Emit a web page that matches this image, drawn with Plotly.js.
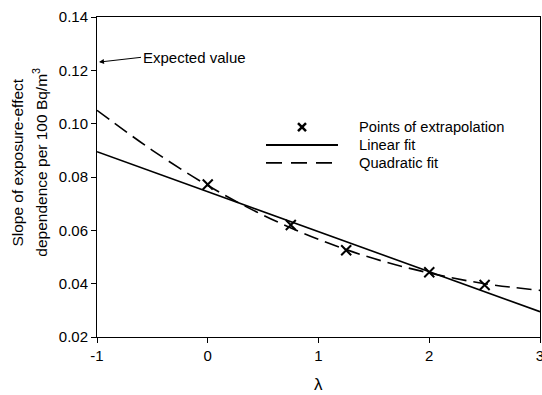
<!DOCTYPE html>
<html>
<head>
<meta charset="utf-8">
<script src="https://cdn.plot.ly/plotly-3.0.1.min.js"></script>
<style>html,body{margin:0;padding:0;background:#fff;}#chart{width:542px;height:395px;}</style>
</head>
<body>
<div id="chart"></div>
<script>
// Points of extrapolation
const pointLambda = [0, 0.75, 1.25, 2, 2.5];
const pointSlope = [0.0772, 0.0620, 0.0525, 0.0443, 0.0395];
// Linear fit (read at ends)
const linLambda = [-1, 3];
const linSlope = [0.0895, 0.0295];
// Quadratic fit
const quadLambda = [-1, -0.5, 0, 0.5, 1, 1.5, 2, 2.5, 3];
const quadSlope = [0.1050, 0.0900, 0.0768, 0.0657, 0.0566, 0.0494, 0.0440, 0.0400, 0.0375];
// Expected value
const expectedLambda = -1;
const expectedSlope = 0.1230;
const xTicks = [-1, 0, 1, 2, 3];
const yTicks = [0.02, 0.04, 0.06, 0.08, 0.10, 0.12, 0.14];
const legendLabels = ['Points of extrapolation', 'Linear fit', 'Quadratic fit'];

const FONT = 'Liberation Sans, Arial, sans-serif';

const traces = [
  {x: pointLambda, y: pointSlope, mode: 'markers', name: legendLabels[0],
   marker: {symbol: 'x-thin', size: 10, color: '#000', line: {width: 2, color: '#000'}}},
  {x: linLambda, y: linSlope, mode: 'lines', name: legendLabels[1],
   line: {color: '#000', width: 1.6}},
  {x: quadLambda, y: quadSlope, mode: 'lines', name: legendLabels[2],
   line: {color: '#000', width: 1.6, dash: '15px,7px', shape: 'spline'}}
];

// custom legend geometry (paper coords)
const legX = 0.3815, legLineEnd = 0.544, legDashEnd = 0.5305, legMarkX = 0.4628, legTextX = 0.5869;
const legRows = [0.656, 0.600, 0.544];

const shapes = [
  {type: 'line', xref: 'paper', yref: 'paper', xsizemode: 'pixel', ysizemode: 'pixel',
   xanchor: legMarkX, yanchor: legRows[0], x0: -4, x1: 4, y0: -4, y1: 4, line: {color: '#000', width: 2.5}},
  {type: 'line', xref: 'paper', yref: 'paper', xsizemode: 'pixel', ysizemode: 'pixel',
   xanchor: legMarkX, yanchor: legRows[0], x0: -4, x1: 4, y0: 4, y1: -4, line: {color: '#000', width: 2.5}},
  {type: 'line', xref: 'paper', yref: 'paper', x0: legX, x1: legLineEnd, y0: legRows[1], y1: legRows[1],
   line: {color: '#000', width: 1.8}},
  {type: 'line', xref: 'paper', yref: 'paper', x0: legX, x1: legDashEnd, y0: legRows[2], y1: legRows[2],
   line: {color: '#000', width: 1.8, dash: '16px,9px'}}
];

const annotations = [
  {x: expectedLambda, y: expectedSlope, xref: 'x', yref: 'y',
   text: 'Expected value', showarrow: true, arrowhead: 2, arrowsize: 1, arrowwidth: 1,
   arrowcolor: '#000', ax: 44, ay: -5, xanchor: 'left', yanchor: 'middle',
   font: {size: 15, family: FONT, color: '#000'}, standoff: 2},
  {xref: 'paper', yref: 'paper', x: 0.5, y: -0.147, text: 'λ', showarrow: false,
   xanchor: 'center', yanchor: 'middle', font: {size: 17, family: FONT, color: '#000'}},
  {xref: 'paper', yref: 'paper', x: -0.1783, y: 0.545, text: 'Slope of exposure-effect',
   showarrow: false, textangle: -90, xanchor: 'center', yanchor: 'middle',
   font: {size: 15.5, family: FONT, color: '#000'}},
  {xref: 'paper', yref: 'paper', x: -0.1287, y: 0.548, text: 'dependence per 100 Bq/m<sup>3</sup>',
   showarrow: false, textangle: -90, xanchor: 'center', yanchor: 'middle',
   font: {size: 15.5, family: FONT, color: '#000'}}
];
legendLabels.forEach((t, i) => annotations.push({
  xref: 'paper', yref: 'paper', x: legTextX, y: legRows[i], text: t, showarrow: false,
  xanchor: 'left', yanchor: 'middle', font: {size: 14.7, family: FONT, color: '#000'}
}));

const layout = {
  width: 542, height: 395,
  margin: {l: 97, r: 2, t: 17, b: 58},
  paper_bgcolor: '#fff', plot_bgcolor: '#fff',
  font: {family: FONT, color: '#000', size: 12},
  showlegend: false,
  xaxis: {range: [-1, 3], tickvals: xTicks, ticktext: xTicks.map(String),
          showgrid: false, zeroline: false, showline: true, linecolor: '#000', linewidth: 1,
          mirror: true, ticks: 'outside', ticklen: 5, tickcolor: '#000',
          ticklabeloverflow: 'allow',
          tickfont: {size: 15, family: FONT}},
  yaxis: {range: [0.02, 0.14], tickvals: yTicks, ticktext: yTicks.map(v => v.toFixed(2)),
          showgrid: false, zeroline: false, showline: true, linecolor: '#000', linewidth: 1,
          mirror: true, ticks: 'outside', ticklen: 5, tickcolor: '#000',
          tickfont: {size: 15, family: FONT}},
  shapes: shapes,
  annotations: annotations
};

Plotly.newPlot('chart', traces, layout, {displayModeBar: false, staticPlot: true});
</script>
</body>
</html>
